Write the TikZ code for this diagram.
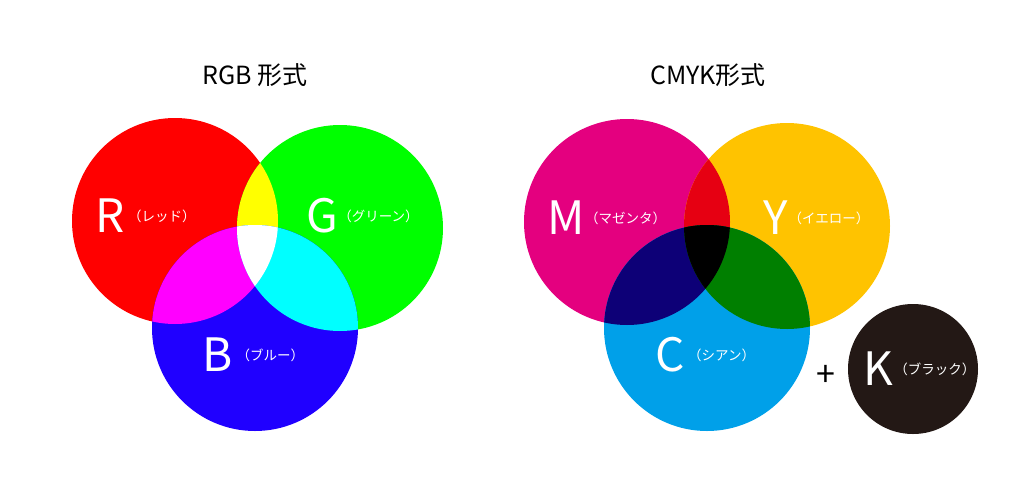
\documentclass[tikz,border=0pt]{standalone}
\usepackage{fontspec}
\setmainfont{Noto Sans CJK JP}
\usetikzlibrary{positioning}
\definecolor{rgbred}{HTML}{FF0000}
\definecolor{rgbgreen}{HTML}{00FF00}
\definecolor{rgbblue}{HTML}{2000FF}
\definecolor{rgbyellow}{HTML}{FFFF00}
\definecolor{rgbmagenta}{HTML}{FF00FF}
\definecolor{rgbcyan}{HTML}{00FFFF}
\definecolor{cmykm}{HTML}{E4007F}
\definecolor{cmyky}{HTML}{FFC300}
\definecolor{cmykc}{HTML}{00A0E9}
\definecolor{cmykmy}{HTML}{E60012}
\definecolor{cmykmc}{HTML}{0D0077}
\definecolor{cmykyc}{HTML}{007F00}
\definecolor{cmykk}{HTML}{231815}
\tikzstyle{title} = [font=\fontsize{25}{28}\selectfont, text=black]
\tikzstyle{letter} = [font=\fontsize{46}{50}\selectfont, text=white, inner sep=0pt]
\tikzstyle{kana} = [font=\fontsize{13.5}{15}\selectfont, text=white, inner sep=0pt, anchor=west]
\begin{document}
\begin{tikzpicture}[x=1pt,y=-1pt]
    \useasboundingbox (0,0) rectangle (1018,488);
    % RGB
    \def\R{(175,221) circle (103)}
    \def\G{(340,228) circle (103)}
    \def\B{(255,328) circle (103)}
    \fill [rgbred] \R;
    \fill [rgbgreen] \G;
    \fill [rgbblue] \B;
    \begin{scope} \clip \R; \fill [rgbyellow] \G; \fill [rgbmagenta] \B; \end{scope}
    \begin{scope} \clip \G; \fill [rgbcyan] \B; \end{scope}
    \begin{scope} \clip \R; \clip \G; \fill [white] \B; \end{scope}
    % CMYK
    \def\M{(627,222) circle (103)}
    \def\Y{(787,226) circle (103)}
    \def\C{(707,328) circle (103)}
    \fill [cmykm] \M;
    \fill [cmyky] \Y;
    \fill [cmykc] \C;
    \begin{scope} \clip \M; \fill [cmykmy] \Y; \fill [cmykmc] \C; \end{scope}
    \begin{scope} \clip \Y; \fill [cmykyc] \C; \end{scope}
    \begin{scope} \clip \M; \clip \Y; \fill [black] \C; \end{scope}
    \fill [cmykk] (913,369) circle (65);
    % labels
    \node [title] (rgbtitle) at (255,75) {RGB 形式};
    \node [title] (cmyktitle) at (708,75) {CMYK形式};
    \node [letter] (rlet) at (110,216) {R};
    \node [kana, right=3pt of rlet] (rkana) {（レッド）};
    \node [letter] (glet) at (322,216) {G};
    \node [kana, right=0pt of glet] (gkana) {（グリーン）};
    \node [letter] (blet) at (218,355) {B};
    \node [kana, right=3pt of blet] (bkana) {（ブルー）};
    \node [letter] (mlet) at (566,218) {M};
    \node [kana, right=0pt of mlet] (mkana) {（マゼンタ）};
    \node [letter] (ylet) at (776,218) {Y};
    \node [kana, right=0pt of ylet] (ykana) {（イエロー）};
    \node [letter] (clet) at (670,355) {C};
    \node [kana, right=3pt of clet] (ckana) {（シアン）};
    \node [font=\fontsize{34}{36}\selectfont] (plus) at (826,376) {+};
    \node [letter] (klet) at (878,369) {K};
    \node [kana, right=1pt of klet] (kkana) {（ブラック）};
\end{tikzpicture}
\end{document}
